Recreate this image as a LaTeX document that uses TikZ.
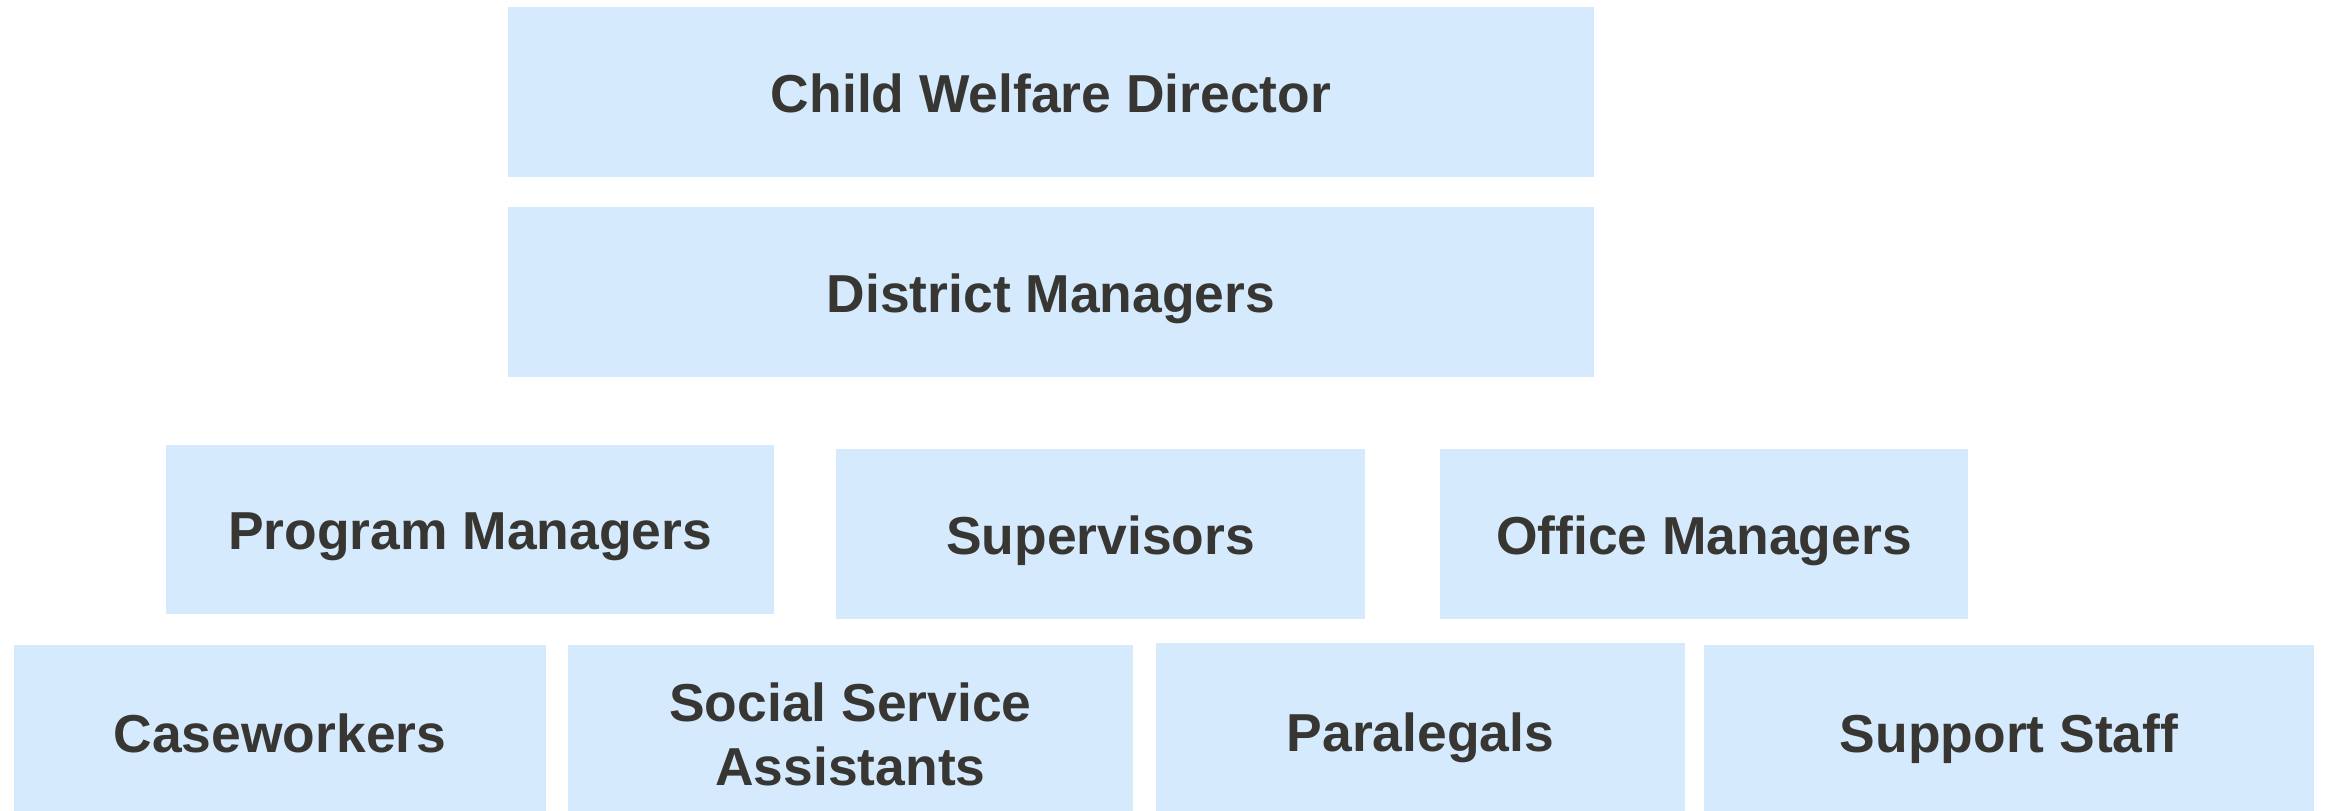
\documentclass[tikz,border=0pt]{standalone}
\usepackage{fontspec}
\setmainfont{Liberation Sans}
\usepackage{xcolor}
\usepackage{tikz}
\usetikzlibrary{positioning}

\definecolor{boxfill}{RGB}{213,234,253}
\definecolor{boxtext}{RGB}{56,54,50}

\begin{document}
\begin{tikzpicture}[x=0.1mm, y=-0.1mm, node distance=3mm, font=\fontsize{15.2}{18.2}\selectfont\bfseries]
    \tikzstyle{role}=[rectangle, fill=boxfill, text=boxtext, align=center, inner sep=0pt, outer sep=0pt, minimum height=17mm]
    \tikzstyle{oneline}=[role, text height=11.6pt, text depth=0pt]
    \useasboundingbox (0,0) rectangle (2325,810);
    \node[oneline, minimum width=108.6mm] (director) at (1051,92) {Child Welfare Director};
    \node[oneline, minimum width=108.6mm, below=of director] (district) {District Managers};

    \node[oneline, minimum width=60.8mm, minimum height=16.9mm] (program) at (470,529.5) {Program Managers};
    \node[oneline, minimum width=52.9mm] (supervisors) at (1100.5,534) {Supervisors};
    \node[oneline, minimum width=52.8mm] (office) at (1704,534) {Office Managers};

    \node[oneline, minimum width=53.2mm, minimum height=17.4mm] (caseworkers) at (280,732) {Caseworkers};
    \node[role, minimum width=56.5mm, minimum height=17.4mm] (assistants) at (850.5,732) {\rule{0pt}{12.2pt}Social Service\\Assistants};
    \node[oneline, minimum width=52.9mm, minimum height=17.6mm] (paralegals) at (1420.5,731) {Paralegals};
    \node[oneline, minimum width=61mm, minimum height=17.4mm] (support) at (2009,732) {Support Staff};
  \end{tikzpicture}
\end{document}
